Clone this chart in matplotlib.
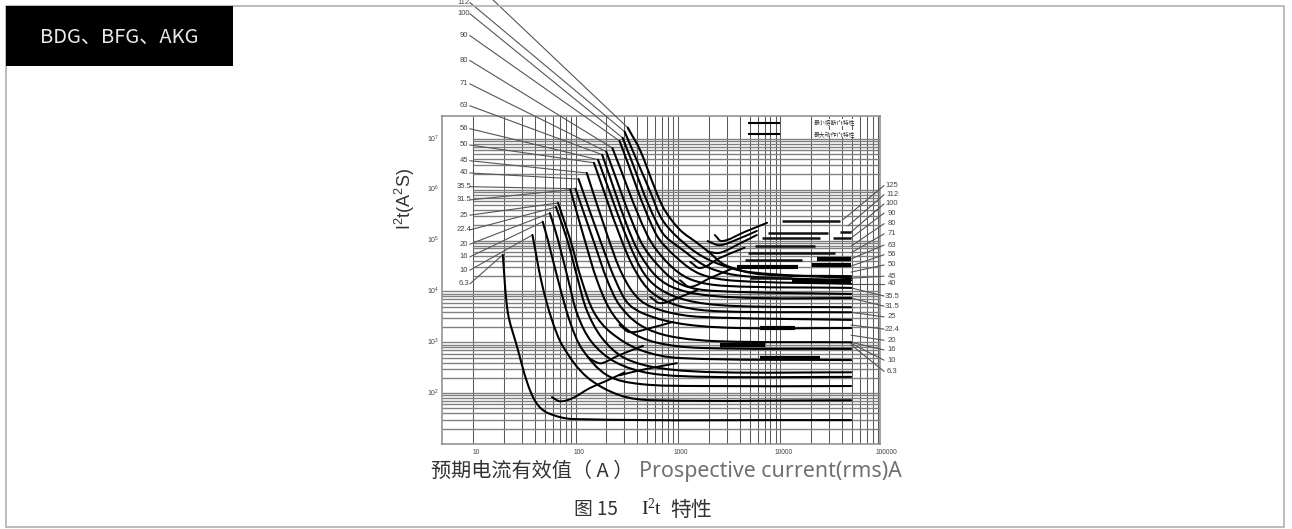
# -*- coding: utf-8 -*-
import matplotlib
matplotlib.use('Agg')
import numpy as np
import matplotlib.pyplot as plt
from matplotlib.patches import Rectangle, PathPatch
from matplotlib.path import Path

plt.rcParams['font.family'] = ['Liberation Sans', 'Noto Sans CJK SC', 'DejaVu Sans']
plt.rcParams['mathtext.default'] = 'regular'

#%% data, all in decades: log10(current in A) and log10(I2t in A2s)
# falling I2t curves, one pair per rated current
x_6_3 = [1.29, 1.34, 1.43, 1.53, 1.62, 1.73, 1.98, 4.69]
y_6_3 = [4.72, 3.58, 2.91, 2.20, 1.80, 1.61, 1.49, 1.47]
x_10 = [1.58, 1.67, 1.77, 1.88, 2.11, 2.43, 2.76, 4.69]
y_10 = [5.11, 4.17, 3.44, 2.91, 2.32, 1.96, 1.86, 1.86]
x_16 = [1.68, 1.73, 1.83, 1.95, 2.07, 2.31, 2.63, 3.22, 4.69]
y_16 = [5.37, 5.01, 4.22, 3.38, 2.85, 2.35, 2.18, 2.14, 2.14]
x_20 = [1.75, 1.83, 1.93, 2.02, 2.16, 2.39, 2.73, 3.31, 4.69]
y_20 = [5.54, 5.01, 4.22, 3.54, 3.00, 2.61, 2.39, 2.32, 2.32]
x_22_4 = [1.81, 1.92, 2.02, 2.11, 2.26, 2.48, 2.83, 3.41, 4.69]
y_22_4 = [5.66, 5.01, 4.26, 3.63, 3.08, 2.69, 2.49, 2.41, 2.41]
x_25 = [1.83, 1.95, 2.06, 2.18, 2.34, 2.63, 3.02, 4.69]
y_25 = [5.74, 5.01, 4.22, 3.59, 3.20, 2.85, 2.69, 2.65]
x_31_5 = [1.95, 2.09, 2.21, 2.34, 2.51, 2.78, 3.22, 4.69]
y_31_5 = [6.00, 5.01, 4.22, 3.63, 3.24, 3.00, 2.89, 2.87]
x_35_5 = [2.00, 2.19, 2.31, 2.43, 2.63, 2.92, 3.41, 4.69]
y_35_5 = [6.02, 4.91, 4.22, 3.73, 3.34, 3.12, 3.02, 3.00]
x_40 = [2.03, 2.24, 2.39, 2.53, 2.78, 3.12, 3.61, 4.69]
y_40 = [6.21, 5.01, 4.22, 3.73, 3.48, 3.34, 3.28, 3.28]
x_45 = [2.11, 2.31, 2.46, 2.63, 2.87, 3.22, 4.69]
y_45 = [6.33, 5.11, 4.32, 3.83, 3.61, 3.50, 3.44]
x_50 = [2.18, 2.43, 2.58, 2.75, 3.02, 3.41, 4.69]
y_50 = [6.53, 5.11, 4.42, 3.97, 3.71, 3.61, 3.59]
x_56 = [2.22, 2.51, 2.68, 2.87, 3.17, 3.61, 4.69]
y_56 = [6.59, 5.01, 4.32, 3.99, 3.79, 3.71, 3.69]
x_63 = [2.26, 2.56, 2.75, 2.94, 3.26, 3.80, 4.69]
y_63 = [6.69, 5.01, 4.38, 4.09, 3.93, 3.87, 3.87]
x_71 = [2.30, 2.63, 2.83, 3.04, 3.36, 4.69]
y_71 = [6.75, 5.01, 4.46, 4.13, 4.01, 3.95]
x_80 = [2.36, 2.70, 2.90, 3.12, 3.46, 4.69]
y_80 = [6.82, 5.11, 4.56, 4.24, 4.11, 4.07]
x_90 = [2.43, 2.78, 2.99, 3.22, 3.56, 4.69]
y_90 = [6.96, 5.15, 4.66, 4.34, 4.21, 4.15]
x_100 = [2.46, 2.83, 3.07, 3.31, 3.65, 4.69]
y_100 = [7.02, 5.21, 4.78, 4.46, 4.30, 4.22]
x_112 = [2.48, 2.73, 2.86, 3.12, 3.36, 3.70, 4.69]
y_112 = [7.14, 5.96, 5.37, 4.85, 4.57, 4.38, 4.26]
x_125 = [2.51, 2.63, 2.78, 2.87, 3.02, 3.19, 3.31, 3.46, 3.80, 4.69]
y_125 = [7.22, 6.78, 6.00, 5.60, 5.21, 4.95, 4.76, 4.52, 4.34, 4.30]

falling = [(x_6_3, y_6_3), (x_10, y_10), (x_16, y_16), (x_20, y_20), (x_22_4, y_22_4),
           (x_25, y_25), (x_31_5, y_31_5), (x_35_5, y_35_5), (x_40, y_40), (x_45, y_45),
           (x_50, y_50), (x_56, y_56), (x_63, y_63), (x_71, y_71), (x_80, y_80),
           (x_90, y_90), (x_100, y_100), (x_112, y_112), (x_125, y_125)]

# rising parts
rise_x = [[1.77, 1.85, 1.97, 2.14, 2.30, 2.48], [2.43, 2.63, 2.99],
          [2.12, 2.20, 2.26, 2.43, 2.66], [2.43, 2.53, 2.73, 2.95],
          [2.73, 2.83, 3.02, 3.19], [3.02, 3.12, 3.31, 3.54],
          [3.12, 3.22, 3.41, 3.65], [3.29, 3.41, 3.61, 3.77],
          [3.29, 3.41, 3.61, 3.77], [3.36, 3.43, 3.65, 3.87]]
rise_y = [[1.92, 1.84, 1.90, 2.10, 2.24, 2.41], [2.35, 2.45, 2.59],
          [2.71, 2.61, 2.59, 2.75, 2.93], [3.34, 3.20, 3.28, 3.40],
          [3.89, 3.77, 3.89, 4.03], [4.22, 4.09, 4.26, 4.46],
          [4.58, 4.46, 4.66, 4.86], [4.78, 4.76, 4.95, 5.11],
          [4.99, 4.91, 5.05, 5.19], [5.11, 4.99, 5.17, 5.35]]

# flat tails at high current
tail_start = [4.02, 3.88, 4.58, 3.82, 4.51, 3.75, 3.68, 3.65, 3.70]
tail_end = [4.58, 4.46, 4.69, 4.39, 4.69, 4.34, 4.53, 4.21, 4.11]
tail_level = [5.39, 5.15, 5.17, 5.05, 5.05, 4.89, 4.76, 4.62, 4.26]
heavy_start = [4.36, 3.58, 4.31, 4.11, 3.80, 3.41, 3.80]
heavy_end = [4.69, 4.17, 4.69, 4.69, 4.39, 3.85, 4.14]
heavy_level = [4.64, 4.48, 4.52, 4.21, 2.69, 2.95, 3.28]

# left labels and their leaders
left_labels = ['6.3', '10', '16', '20', '22.4', '25', '31.5', '35.5', '40', '45', '50', '56',
               '63', '71', '80', '90', '100', '112']
left_level = [4.15, 4.42, 4.68, 4.93, 5.21, 5.50, 5.80, 6.06, 6.33, 6.57, 6.88, 7.20,
              7.65, 8.08, 8.54, 9.03, 9.46, 9.68]

# right labels and their leaders
right_labels = ['125', '112', '100', '90', '80', '71', '63', '56', '50', '45', '40', '35.5',
                '31.5', '25', '22.4', '20', '16', '10', '6.3']
right_level = [6.08, 5.90, 5.72, 5.54, 5.33, 5.13, 4.91, 4.72, 4.52, 4.30, 4.15, 3.91,
               3.71, 3.50, 3.26, 3.04, 2.85, 2.65, 2.43]
right_from_x = [4.61, 4.66, 4.69, 4.69, 4.69, 4.69, 4.69, 4.69, 4.69, 4.69, 4.69, 4.69,
                4.69, 4.69, 4.69, 4.69, 4.69, 4.69, 4.69]
right_from_y = [5.41, 5.29, 5.17, 5.05, 4.89, 4.76, 4.64, 4.50, 4.38, 4.26, 4.15, 4.07,
                3.87, 3.59, 3.34, 3.14, 3.00, 2.98, 2.95]

x_tick_decades = [1, 2, 3, 4, 5]
x_tick_labels = ['10', '100', '1000', '10000', '100000']
y_tick_decades = [7, 6, 5, 4, 3, 2]

legend_x = [3.682, 4.0]
legend_y = [7.32, 7.10]
legend_labels = ['最小熔断I²t特性', '最大动作I²t特性']


#%% smooth stroke through the read points, the drawn vertices stay in data units
def smooth_path(lx, ly):
    p = np.column_stack([lx, ly])
    verts = [p[0]]
    codes = [Path.MOVETO]
    scale = np.array([1.0, 0.5])  # a y decade is half as long as an x decade on paper
    tang = []
    for i in range(len(p)):
        d = p[min(i + 1, len(p) - 1)] - p[max(i - 1, 0)]
        tang.append(d / np.linalg.norm(d * scale))
    for i in range(len(p) - 1):
        seg = np.linalg.norm((p[i + 1] - p[i]) * scale) / 3
        verts += [p[i] + tang[i] * seg, p[i + 1] - tang[i + 1] * seg, p[i + 1]]
        codes += [Path.CURVE4] * 3
    return Path(10 ** np.array(verts), codes)


#%% figure
W, H = 1292, 529
fig = plt.figure(figsize=(W / 100, H / 100), dpi=100, facecolor='white')

fig.add_artist(Rectangle((6 / W, 2 / H), 1278 / W, 521 / H, transform=fig.transFigure,
                         fill=False, edgecolor='#b0b0b0', linewidth=1.2))
fig.add_artist(Rectangle((6 / W, 1 - 66 / H), 227 / W, 60 / H, transform=fig.transFigure,
                         facecolor='black', edgecolor='none'))
fig.text(119 / W, 1 - 37 / H, 'BDG、BFG、AKG', color='#e8e8e8', fontsize=14.5,
         ha='center', va='center', family=['Noto Sans CJK SC', 'DejaVu Sans'])

ax = fig.add_axes([442 / W, 1 - 444 / H, 438 / W, 328 / H])
ax.set_xscale('log')
ax.set_yscale('log')
ax.set_xlim(10 ** 0.697, 10 ** 4.972)
ax.set_ylim(10 ** 1.0, 10 ** 7.45)
ax.set_xticks([])
ax.set_yticks([])
ax.minorticks_off()
for s in ax.spines.values():
    s.set_color('#8a8a8a')
    s.set_linewidth(1.1)

# grid
v_lines = [k * 10.0 ** n for n in range(1, 5) for k in range(1, 10)]
ax.vlines(v_lines, 10 ** 1.0, 10 ** 7.45, color='#5a5a5a', linewidth=0.75, zorder=1)
for n in range(1, 7):
    for k in range(2, 11):
        val = k * 10.0 ** n
        # the upper left corner of the grid is left empty for the labels
        start = 10 if n >= 4 else 10 ** 0.697
        ax.hlines(val, start, 10 ** 4.972, color='#808080', linewidth=1.0, zorder=1)

# curves
for cx, cy in falling:
    ax.add_patch(PathPatch(smooth_path(cx, cy), fill=False, edgecolor='black', linewidth=1.5,
                           capstyle='round', zorder=4))
for cx, cy in zip(rise_x, rise_y):
    ax.add_patch(PathPatch(smooth_path(cx, cy), fill=False, edgecolor='black', linewidth=1.4,
                           capstyle='round', zorder=4))
ax.hlines(10 ** np.array(tail_level), 10 ** np.array(tail_start), 10 ** np.array(tail_end),
          color='#111111', linewidth=1.8, zorder=4)
ax.hlines(10 ** np.array(heavy_level), 10 ** np.array(heavy_start), 10 ** np.array(heavy_end),
          color='black', linewidth=3.0, zorder=4)

# leaders and labels on the left
for lab, lev, (cx, cy) in zip(left_labels, left_level, falling):
    ax.plot([10 ** 0.97, 10 ** cx[0]], [10 ** lev, 10 ** cy[0]], color='#555555', linewidth=0.8,
            clip_on=False, zorder=3)
    ax.text(10 ** 0.91, 10 ** lev, lab, fontsize=5.5, color='#444444', ha='center', va='center',
            clip_on=False)
ax.plot([10 ** 1.17, 10 ** x_125[0]], [10 ** 9.78, 10 ** y_125[0]], color='#555555', linewidth=0.8,
        clip_on=False, zorder=3)

# leaders and labels on the right
for lab, lev, fx, fy in zip(right_labels, right_level, right_from_x, right_from_y):
    ax.plot([10 ** fx, 10 ** 5.01], [10 ** fy, 10 ** lev], color='#555555', linewidth=0.8,
            clip_on=False, zorder=3)
    ax.text(10 ** 5.09, 10 ** lev, lab, fontsize=5.5, color='#444444', ha='center', va='center',
            clip_on=False)

# tick labels
for d, lab in zip(x_tick_decades, x_tick_labels):
    ax.text(10 ** (d + 0.03), 10 ** 0.83, lab, fontsize=4.8, color='#444444', ha='center',
            va='center', clip_on=False)
for d in y_tick_decades:
    ax.text(10 ** 0.61, 10.0 ** d, '$10^{%d}$' % d, fontsize=5, color='#444444', ha='center',
            va='center', clip_on=False)

# legend inside the top of the box
ax.hlines(10 ** np.array(legend_y), 10 ** legend_x[0], 10 ** legend_x[1], color='black', linewidth=1.5, zorder=4)
for lev, lab in zip(legend_y, legend_labels):
    ax.text(10 ** 4.53, 10 ** lev, lab, fontsize=4.2, color='#333333', ha='center', va='center',
            family=['Noto Sans CJK SC', 'DejaVu Sans'], zorder=5,
            bbox=dict(facecolor='white', edgecolor='none', pad=0.5))

# outer texts
fig.text(405 / W, 1 - 199 / H, 'I$^2$t(A$^2$S)', rotation=90, fontsize=13, color='#333333',
         ha='center', va='center')
fig.text(431 / W, 1 - 471 / H, '预期电流有效值（ A ）', fontsize=14.5, color='#333333', ha='left', va='center',
         family=['Noto Sans CJK SC', 'DejaVu Sans'])
fig.text(639 / W, 1 - 471 / H, 'Prospective current(rms)A', fontsize=15.4, color='#707070', ha='left',
         va='center', family=['Noto Sans', 'DejaVu Sans'])
fig.text(574 / W, 1 - 510 / H, '图 15', fontsize=13.5, color='#333333', ha='left', va='center',
         family=['Noto Sans CJK SC', 'DejaVu Sans'])
fig.text(641 / W, 1 - 509 / H, 'I$^2$t', fontsize=14, color='#222222', ha='left', va='center',
         family=['Liberation Serif', 'DejaVu Serif'])
fig.text(670 / W, 1 - 510 / H, '特性', fontsize=15, color='#333333', ha='left', va='center',
         family=['Noto Sans CJK SC', 'DejaVu Sans'])

fig.savefig('out.png', dpi=100)
plt.close()
